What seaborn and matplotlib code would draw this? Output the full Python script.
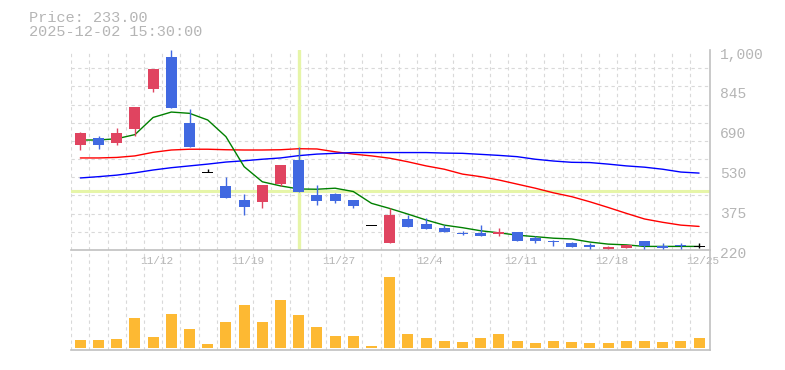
import numpy as np
import pandas as pd
import matplotlib
matplotlib.use("Agg")
import matplotlib.pyplot as plt
from matplotlib.transforms import ScaledTranslation
import seaborn as sns

# ---------------- data ----------------
dates = ["11/6", "11/7", "11/10", "11/11", "11/12", "11/13", "11/14", "11/17", "11/18",
         "11/19", "11/20", "11/21", "11/25", "11/26", "11/27", "11/28", "12/1", "12/2",
         "12/3", "12/4", "12/5", "12/8", "12/9", "12/10", "12/11", "12/12", "12/15",
         "12/16", "12/17", "12/18", "12/19", "12/22", "12/23", "12/24", "12/25"]
opens = [631, 657, 638, 692, 848, 973, 715, 523, 470, 415, 408, 479, 571, 434, 440, 415, 316,
         248, 341, 321, 306, 286, 286, 284, 290, 268, 255, 247, 240, 224, 228, 255, 236, 237, 233]
highs = [680, 663, 696, 778, 925, 1000, 770, 536, 505, 438, 474, 551, 622, 474, 443, 415, 316,
         382, 356, 345, 317, 294, 317, 306, 290, 275, 259, 250, 247, 234, 240, 255, 247, 247, 247]
lows = [610, 615, 631, 666, 837, 774, 623, 523, 424, 358, 385, 471, 447, 397, 404, 385, 316,
        248, 311, 303, 291, 277, 275, 275, 256, 248, 237, 232, 224, 222, 228, 224, 224, 224, 228]
closes = [676, 631, 676, 778, 925, 774, 623, 523, 424, 389, 474, 551, 447, 412, 412, 393, 316,
          356, 311, 303, 291, 284, 275, 290, 256, 256, 253, 232, 233, 232, 240, 236, 229, 235, 233]
ma_short = [649, 649, 654, 670, 737, 758, 753, 727, 662, 545, 486, 470, 458, 457, 461, 448, 402,
            382, 360, 337, 317, 307, 295, 287, 278, 272, 266, 263, 251, 243, 240, 234, 234, 234, 234]
ma_mid = [579, 579, 581, 587, 601, 610, 613, 613, 611, 610, 610, 611, 615, 614, 603, 594, 587,
          578, 564, 548, 535, 516, 506, 493, 477, 461, 443, 428, 408, 386, 363, 341, 328, 317, 312]
ma_long = [501, 506, 512, 521, 532, 541, 548, 555, 563, 568, 574, 579, 588, 594, 597, 600, 600,
           600, 600, 600, 598, 597, 593, 589, 584, 574, 567, 562, 561, 555, 548, 543, 535, 524, 520]
volume = [80, 80, 90, 300, 110, 340, 190, 40, 260, 430, 260, 480, 330, 210, 120, 120, 20, 710,
          140, 100, 70, 60, 100, 140, 70, 50, 70, 60, 50, 50, 70, 70, 60, 70, 100]
date_ticks = ["11/12", "11/19", "11/27", "12/4", "12/11", "12/18", "12/25"]
price_labels = ["1,000", "845", "690", "530", "375", "220"]
title_lines = ["Price: 233.00", "2025-12-02 15:30:00"]
cross_day = "11/25"
cross_price = 449

# ---------------- styling ----------------
sns.set_style("white")
plt.rcParams["font.family"] = ["Liberation Mono", "DejaVu Sans Mono"]

UP = "#e04460"
DOWN = "#4169e1"
DOJI = "#000000"
VOL = "#fdb933"
GRID = "#d9d9d9"
AXIS = "#c0c0c0"
TXT = "#b5b5b5"
CROSS = "#e6f5a8"

W, H = 785, 370
fig = plt.figure(figsize=(W / 100, H / 100), dpi=100)
L, R = 70.7, 710.0
pax = fig.add_axes([L / W, (H - 250) / H, (R - L) / W, 200 / H])
vax = fig.add_axes([L / W, (H - 350) / H, (R - L) / W, 100 / H])
vax.patch.set_alpha(0)

n = len(dates)
idx = np.arange(n)
df = pd.DataFrame({"i": idx, "date": dates, "open": opens, "high": highs, "low": lows,
                   "close": closes, "ma_s": ma_short, "ma_m": ma_mid, "ma_l": ma_long,
                   "volume": volume})

# ---------------- price panel ----------------
xlim = (-0.53, 34.6)
ylim = (220, 1000)

ci = dates.index(cross_day)
pax.axvline(ci, color=CROSS, lw=2.4, zorder=1)
pax.axhline(cross_price, color=CROSS, lw=2.2, zorder=1)

sns.lineplot(data=df, x="i", y="ma_m", color="#ff0000", lw=1.0, ax=pax, zorder=3)
sns.lineplot(data=df, x="i", y="ma_l", color="#0000ff", lw=1.0, ax=pax, zorder=3)
sns.lineplot(data=df, x="i", y="ma_s", color="#008000", lw=1.0, ax=pax, zorder=3)

o = df["open"].to_numpy()
c = df["close"].to_numpy()
colors = np.where(c > o, UP, np.where(c < o, DOWN, DOJI))
pax.vlines(idx, df["low"], df["high"], colors=colors, lw=1.0, zorder=4)
body_h = np.maximum(np.abs(c - o), 3)
body_b = np.minimum(o, c) - np.where(c == o, 1.5, 0)
pax.bar(idx, body_h, bottom=body_b, width=0.6, color=colors, lw=0, zorder=5)

pax.set_xlim(*xlim)
pax.set_ylim(*ylim)
pax.set_xlabel("")
pax.set_ylabel("")

# grid
pax.set_xticks(idx - 0.5, minor=True)
pax.set_yticks([220 + j * 780 / 11 for j in range(1, 12)], minor=True)
pax.grid(False, which="major")
pax.grid(True, which="minor", color=GRID, lw=0.8, ls=(0, (3, 3)))
pax.set_axisbelow(True)

# ticks
tick_pos = [dates.index(d) for d in date_ticks]
pax.set_xticks(tick_pos)
pax.set_xticklabels(date_ticks)
pax.tick_params(axis="x", which="both", length=0, pad=4, labelsize=8, labelcolor=TXT)
for lab in pax.get_xticklabels():
    lab.set_transform(lab.get_transform() + ScaledTranslation(0.036, 0, fig.dpi_scale_trans))

pax.yaxis.tick_right()
pax.set_yticks(np.linspace(1000, 220, 6))
pax.set_yticklabels(price_labels)
pax.tick_params(axis="y", which="both", length=0, pad=7.2, labelsize=10.5, labelcolor=TXT)
for lab in pax.get_yticklabels():
    lab.set_transform(lab.get_transform() + ScaledTranslation(0, -0.03, fig.dpi_scale_trans))

for s in ["left", "top"]:
    pax.spines[s].set_visible(False)
for s in ["right", "bottom"]:
    pax.spines[s].set_color(AXIS)
    pax.spines[s].set_linewidth(1.2)

# ---------------- volume panel ----------------
sns.barplot(data=df, x="i", y="volume", native_scale=True, color=VOL, width=0.6,
            errorbar=None, saturation=1, ax=vax, zorder=3)
for p in vax.patches:
    p.set_linewidth(0)
vax.set_xlim(*xlim)
vax.set_ylim(-20, 980)
vax.set_xlabel("")
vax.set_ylabel("")
vax.set_yticks([])
vax.set_xticks([])
vax.set_xticks(idx - 0.5, minor=True)
vax.tick_params(axis="x", which="both", length=0, labelbottom=False)
vax.grid(True, which="minor", axis="x", color=GRID, lw=0.8, ls=(0, (3, 3)))
vax.set_axisbelow(True)
for s in ["left", "top"]:
    vax.spines[s].set_visible(False)
for s in ["right", "bottom"]:
    vax.spines[s].set_color(AXIS)
    vax.spines[s].set_linewidth(1.2)

# ---------------- header text ----------------
fig.text(29 / W, 1 - 17.7 / H, title_lines[0], color=TXT, fontsize=11, va="center", ha="left")
fig.text(29 / W, 1 - 32.5 / H, title_lines[1], color=TXT, fontsize=11, va="center", ha="left")

fig.savefig("out.png", dpi=100)
